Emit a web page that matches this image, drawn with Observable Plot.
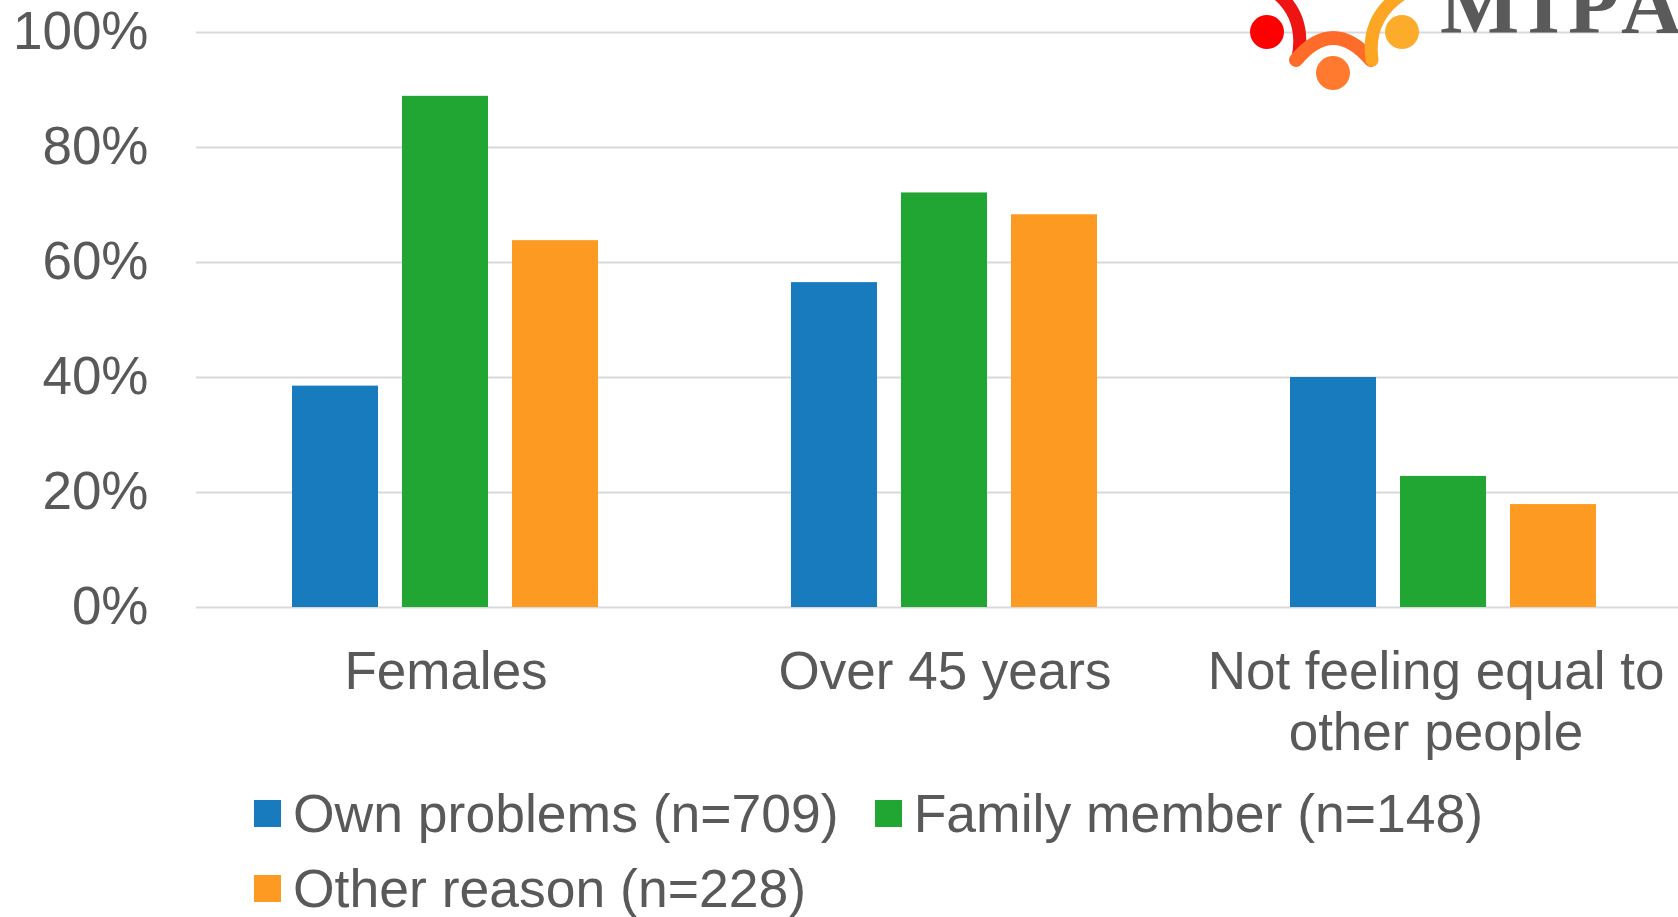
<!DOCTYPE html>
<html>
<head>
<meta charset="utf-8">
<script src="https://cdn.jsdelivr.net/npm/d3@7"></script>
<script src="https://cdn.jsdelivr.net/npm/@observablehq/plot@0.6"></script>
<style>
  html, body { margin: 0; padding: 0; background: #fff; overflow: hidden; }
  #wrap { position: relative; width: 1678px; height: 917px; font-family: "Liberation Sans", Arial, sans-serif; color: #595959; }
  #chart { position: absolute; left: 0; top: 0; }
  #logo { position: absolute; left: 0; top: 0; }
  .legend-row { position: absolute; left: 254px; display: flex; align-items: flex-start; font-size: 53.5px; line-height: 58px; white-space: nowrap; }
  .legend-item { display: flex; align-items: flex-start; margin-right: 36px; }
  .swatch { width: 27px; height: 27px; margin-top: 15px; margin-right: 12px; }
</style>
</head>
<body>
<div id="wrap">
  <div id="chart"></div>
  <svg id="logo" width="1678" height="110" viewBox="0 0 1678 110">
    <path d="M1278 -6 Q1306 18 1298 58" fill="none" stroke="#ee1414" stroke-width="13" stroke-linecap="round"/>
    <path d="M1296 60 Q1333 16 1371 60" fill="none" stroke="#ff6b29" stroke-width="14" stroke-linecap="round"/>
    <path d="M1372 60 Q1366 18 1402 -6" fill="none" stroke="#fca623" stroke-width="13" stroke-linecap="round"/>
    <circle cx="1267" cy="32" r="17" fill="#ff0000"/>
    <circle cx="1333" cy="73" r="17" fill="#ff7a2f"/>
    <circle cx="1402" cy="32" r="17" fill="#fdab2a"/>
    <text x="1440" y="33" font-family="Liberation Serif, DejaVu Serif, serif" font-size="84" font-weight="bold" letter-spacing="8" fill="#5a5a5a">MIPA</text>
  </svg>
  <div class="legend-row" id="row1" style="top:785px"></div>
  <div class="legend-row" id="row2" style="top:860px"></div>
</div>
<script>
// ---- data ----
const categories = ["Females", "Over 45 years", "Not feeling equal to other people"];
const categoryLabels = ["Females", "Over 45 years", "Not feeling equal to\nother people"];
const series = ["Own problems (n=709)", "Family member (n=148)", "Other reason (n=228)"];
const ownProblems = [38.5, 56.5, 40.0];
const familyMember = [88.9, 72.1, 22.8];
const otherReason = [63.8, 68.3, 17.9];
const yTicks = [0, 20, 40, 60, 80, 100];
const colors = ["#177bbe", "#21a634", "#fd9a21"];

const seriesValues = [ownProblems, familyMember, otherReason];
const data = categories.flatMap((c, i) =>
  series.map((s, j) => ({category: c, series: s, value: seriesValues[j][i]}))
);
const labelOf = d => categoryLabels[categories.indexOf(d)];
const fxAxisStyle = {anchor: "bottom", tickSize: 0, tickPadding: 38, fontSize: 53, lineHeight: 1.15, color: "#595959", label: null, tickFormat: labelOf};

const chart = Plot.plot({
  width: 1678,
  height: 760,
  marginTop: 32,
  marginBottom: 153,
  marginLeft: 195,
  marginRight: -16,
  style: {fontFamily: "Liberation Sans, Arial, sans-serif", fontSize: "53px", color: "#595959", background: "transparent", overflow: "hidden"},
  fx: {domain: categories, padding: 0, label: null},
  x: {domain: series, paddingInner: 0.216, paddingOuter: 0.858, axis: null},
  y: {domain: [0, 100], label: null},
  color: {domain: series, range: colors},
  marks: [
    Plot.ruleY(yTicks, {stroke: "#d9d9d9", strokeWidth: 2}),
    Plot.barY(data, {fx: "category", x: "series", y: "value", fill: "series"}),
    Plot.axisY({ticks: yTicks, tickFormat: d => d + "%", tickSize: 0, tickPadding: 48, fontSize: 53, color: "#595959", label: null}),
    Plot.axisFx({...fxAxisStyle, ticks: categories.slice(0, 2)}),
    Plot.axisFx({...fxAxisStyle, ticks: categories.slice(2), dx: -8})
  ]
});
document.getElementById("chart").appendChild(chart);

// ---- legend ----
function addItem(row, i) {
  const item = document.createElement("div");
  item.className = "legend-item";
  const sw = document.createElement("div");
  sw.className = "swatch";
  sw.style.background = colors[i];
  const tx = document.createElement("span");
  tx.textContent = series[i];
  item.appendChild(sw);
  item.appendChild(tx);
  row.appendChild(item);
}
addItem(document.getElementById("row1"), 0);
addItem(document.getElementById("row1"), 1);
addItem(document.getElementById("row2"), 2);
</script>
</body>
</html>
